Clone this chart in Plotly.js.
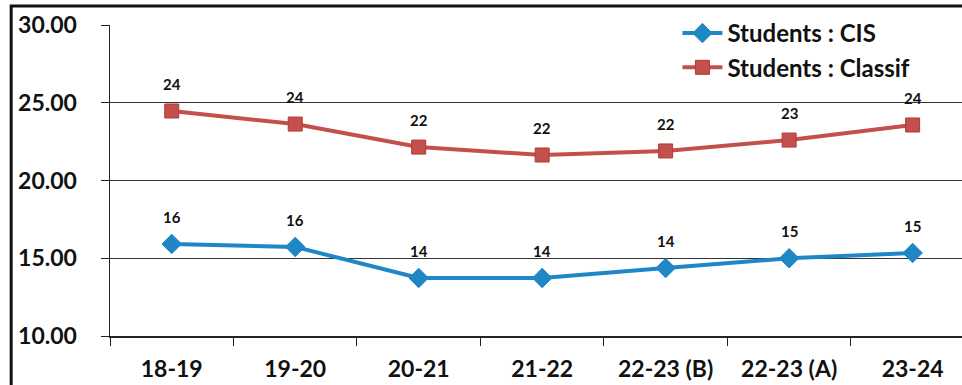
<!DOCTYPE html>
<html>
<head>
<meta charset="utf-8">
<script src="https://cdn.plot.ly/plotly-3.0.1.min.js"></script>
<style>html,body{margin:0;padding:0;background:#fff;overflow:hidden}#chart{width:962px;height:385px}</style>
</head>
<body>
<div id="chart"></div>
<script>
const categories = ["18-19", "19-20", "20-21", "21-22", "22-23 (B)", "22-23 (A)", "23-24"];
const studentsCIS = [15.92, 15.73, 13.73, 13.73, 14.37, 15.0, 15.34];
const studentsClassif = [24.47, 23.63, 22.15, 21.64, 21.9, 22.6, 23.57];
const seriesNames = ["Students : CIS", "Students : Classif"];
const yTicks = [10, 15, 20, 25, 30];

const FONT = "Lato, 'Open Sans', sans-serif";
const blue = "#1f87c5";
const red = "#c4504b";

const traces = [
  {
    x: categories, y: studentsCIS, name: seriesNames[0], type: "scatter", mode: "lines+markers",
    line: {color: blue, width: 4},
    marker: {symbol: "diamond", size: 15, color: blue, line: {color: blue, width: 1}},
    cliponaxis: false
  },
  {
    x: categories, y: studentsClassif, name: seriesNames[1], type: "scatter", mode: "lines+markers",
    line: {color: red, width: 4},
    marker: {symbol: "square", size: 14, color: red, line: {color: "#b03a36", width: 1}},
    cliponaxis: false
  }
];

const annotations = [];
[studentsCIS, studentsClassif].forEach(series => {
  series.forEach((v, i) => {
    annotations.push({
      x: categories[i], y: v, xref: "x", yref: "y",
      text: String(Math.round(v)), showarrow: false, yshift: 27,
      font: {family: FONT, size: 15, color: "#111", weight: 700}
    });
  });
});

const layout = {
  width: 962, height: 385,
  margin: {l: 110, r: 0, t: 25, b: 49},
  paper_bgcolor: "#fff", plot_bgcolor: "#fff",
  showlegend: true,
  legend: {
    x: 0.666, y: 1.045, xanchor: "left", yanchor: "top",
    bgcolor: "rgba(0,0,0,0)", tracegroupgap: 0,
    font: {family: FONT, size: 24, color: "#111", weight: 700},
    itemwidth: 40
  },
  xaxis: {
    type: "category", range: [-0.5, 6.4],
    showline: true, linecolor: "#222", linewidth: 1.5,
    ticks: "outside", tickson: "boundaries", ticklen: 8, tickcolor: "#222",
    showgrid: false, zeroline: false,
    tickfont: {family: FONT, size: 23, color: "#111", weight: 700},
    ticklabelstandoff: 12
  },
  yaxis: {
    range: [10, 30], tickvals: yTicks, ticktext: yTicks.map(v => v.toFixed(2)),
    showline: true, linecolor: "#222", linewidth: 1.5,
    ticks: "outside", ticklen: 8, tickcolor: "#222",
    showgrid: true, gridcolor: "#333", gridwidth: 1, zeroline: false,
    tickfont: {family: FONT, size: 23, color: "#111", weight: 700},
    ticklabelstandoff: 19
  },
  shapes: [{
    type: "rect", xref: "paper", yref: "paper",
    x0: -0.116, x1: 1.2, y0: -0.3, y1: 1.061,
    line: {color: "#111", width: 3}, fillcolor: "rgba(0,0,0,0)", layer: "above"
  }],
  annotations: annotations
};

Plotly.newPlot("chart", traces, layout, {displayModeBar: false, staticPlot: true});
</script>
</body>
</html>
